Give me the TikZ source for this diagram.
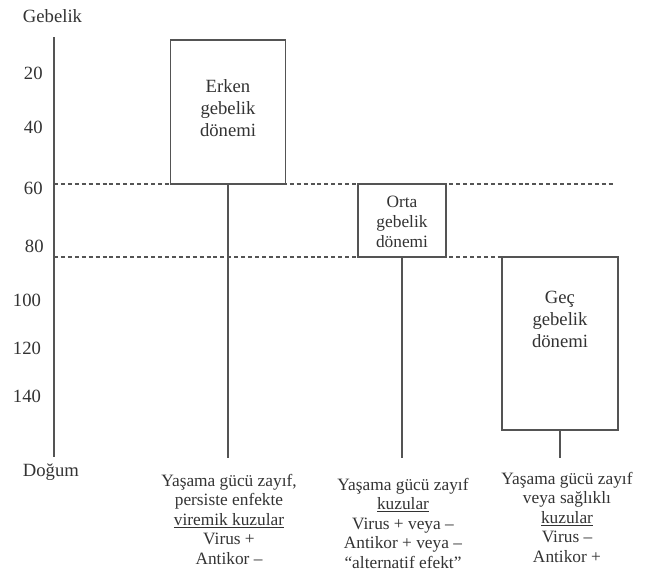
\documentclass[tikz,border=0pt]{standalone}
\usepackage{fontspec}
\setmainfont{Liberation Serif}
\definecolor{linegray}{rgb}{0.33,0.33,0.33}
\definecolor{textgray}{rgb}{0.2,0.2,0.2}

\begin{document}
\begin{tikzpicture}[x=0.75pt,y=-0.75pt,line width=1.4pt,
	phase/.style={draw=linegray,fill=white,inner sep=0pt},
	phasetext/.style={align=center,inner sep=0pt,text=textgray,
		font=\fontsize{14}{16.5}\selectfont},
	result/.style={align=center,anchor=north,inner sep=0pt,text=textgray,
		font=\fontsize{13}{14.6}\selectfont},
	axislabel/.style={anchor=base west,inner sep=0pt,text=textgray,
		font=\fontsize{14}{16}\selectfont},
	limit/.style={draw=linegray,line width=0.9pt,dash pattern=on 3pt off 2.2pt}]
\useasboundingbox (0,0) rectangle (649,571);
% time axis
\coordinate (axtop) at (54,37);
\coordinate (axbot) at (54,457);
\draw[linegray] (axtop) -- (axbot);
\node[axislabel] (gebelik) at (22,22) {Gebelik};
\node[axislabel] (dogum) at (22,476) {Doğum};
\foreach \v/\x/\y in {20/23/73,40/23/127,60/23/188,80/24/246,
		100/12/300,120/12/348,140/12/396}{
	\node[axislabel,anchor=west] (t\v) at (\x,\y) {\v};
}
% limits at day 60 and 85
\coordinate (l60a) at (54,184);
\coordinate (l60b) at (615,184);
\coordinate (l85a) at (54,257);
\coordinate (l85b) at (502,257);
\draw[limit] (l60a) -- (l60b);
\draw[limit] (l85a) -- (l85b);
% periods
\node[phase,minimum width=86.25pt,minimum height=108pt] (erken) at (228,112) {};
\node[phase,minimum width=66pt,minimum height=54.75pt] (orta) at (402,220.5) {};
\node[phase,minimum width=87pt,minimum height=129.75pt] (gec) at (560,343.5) {};
\node[phasetext] (erkentxt) at (228,108) {Erken\\gebelik\\dönemi};
\node[phasetext,font=\fontsize{13}{14.8}\selectfont] (ortatxt) at (402,222)
	{Orta\\gebelik\\dönemi};
\node[phasetext] (gectxt) at (560,319) {Geç\\gebelik\\dönemi};
% outcomes
\coordinate (erkenend) at (228,458);
\coordinate (ortaend) at (402,458);
\coordinate (gecend) at (560,458);
\draw[linegray] (erken.south) -- (erkenend);
\draw[linegray] (orta.south) -- (ortaend);
\draw[linegray] (gec.south) -- (gecend);
\node[result] (sonuc1) at (229,473)
	{Yaşama gücü zayıf,\\persiste enfekte\\\underline{viremik kuzular}\\Virus +\\Antikor –};
\node[result] (sonuc2) at (403,477)
	{Yaşama gücü zayıf\\\underline{kuzular}\\Virus + veya –\\Antikor + veya –\\“alternatif efekt”};
\node[result] (sonuc3) at (567,471)
	{Yaşama gücü zayıf\\veya sağlıklı\\\underline{kuzular}\\Virus –\\Antikor +};
\end{tikzpicture}
\end{document}
